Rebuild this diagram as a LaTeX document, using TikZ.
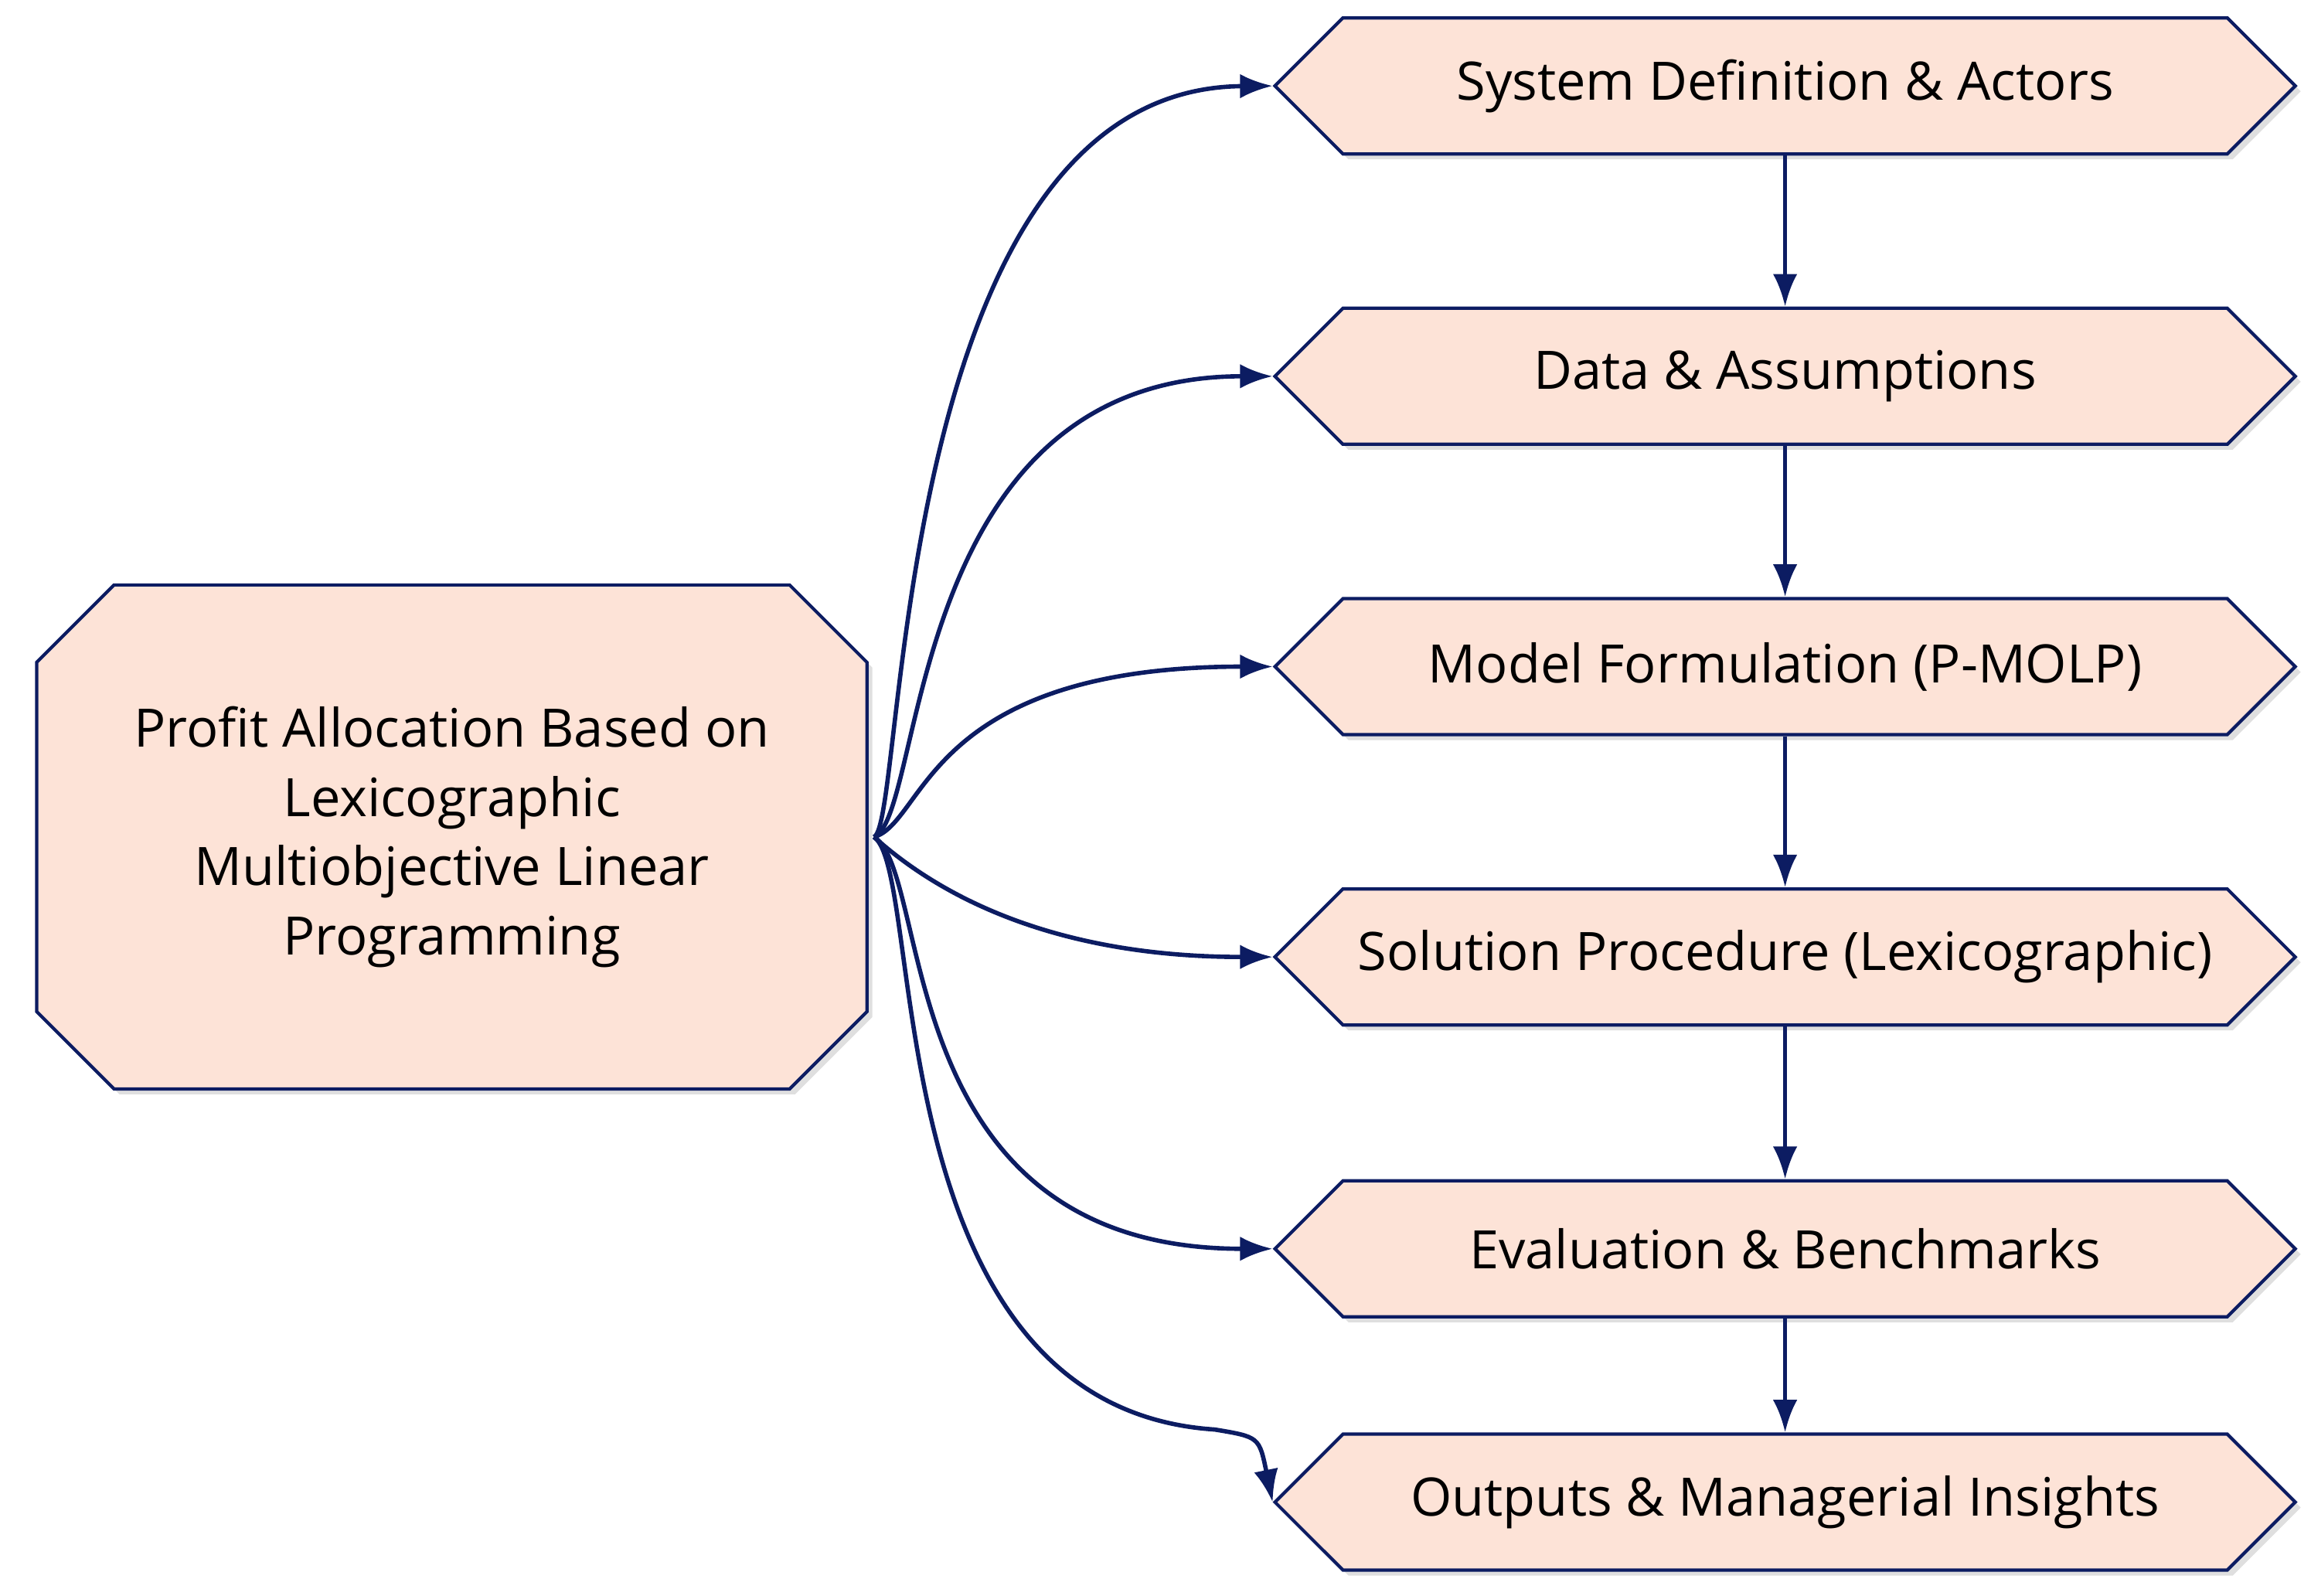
\documentclass[tikz,border=0pt]{standalone}
\usepackage{fontspec}
\setmainfont{Open Sans}
\usetikzlibrary{
  arrows.meta,
  shapes.misc,
  shapes.symbols,
  shadows,
}
\definecolor{peach}{RGB}{253, 227, 215}
\definecolor{navy}{RGB}{12, 28, 98}
\tikzset{
  stage/.style = {
    signal, signal to=west and east, signal pointer angle=90,
    draw=navy, line width=1.2pt, fill=peach,
    minimum width=13.2cm, minimum height=1.76cm, inner sep=0pt,
    font=\fontsize{19.5}{23}\selectfont,
    drop shadow={opacity=0.25, shadow xshift=2pt, shadow yshift=-2pt},
  },
  topic/.style = {
    chamfered rectangle, chamfered rectangle xsep=0.55cm,
    chamfered rectangle ysep=0.45cm,
    draw=navy, line width=1.2pt, fill=peach,
    minimum width=10.74cm, minimum height=6.52cm, inner sep=0pt,
    align=center, font=\fontsize{19.5}{25.5}\selectfont,
    drop shadow={opacity=0.25, shadow xshift=2pt, shadow yshift=-2pt},
  },
  arrow/.style = {
    -{Latex[length=12pt, width=9pt]},
    line width=1.6pt,
    navy,
  },
}

\begin{document}
\begin{tikzpicture}[x=0.01917cm, y=-0.01917cm]

  \useasboundingbox (0,0) rectangle (1560,1077);

  \node [topic] (main) at (305,565)
        {Profit Allocation Based on\\Lexicographic\\Multiobjective Linear\\Programming};

  \node [stage] (sys)  at (1205,58)   {System Definition \& Actors};
  \node [stage] (data) at (1205,254)  {Data \& Assumptions};
  \node [stage] (model) at (1205,450) {Model Formulation (P-MOLP)};
  \node [stage] (sol)  at (1205,646)  {Solution Procedure (Lexicographic)};
  \node [stage] (eval) at (1205,843)  {Evaluation \& Benchmarks};
  \node [stage] (out)  at (1205,1014) {Outputs \& Managerial Insights};

  \coordinate (fan) at (590,565);

  \draw [arrow] (fan) .. controls (612,555) and (600,60) .. (sys.west);
  \draw [arrow] (fan) .. controls (625,550) and (610,254) .. (data.west);
  \draw [arrow] (fan) .. controls (625,555) and (625,450) .. (model.west);
  \draw [arrow] (fan) .. controls (640,610) and (720,646) .. (sol.west);
  \draw [arrow] (fan) .. controls (630,590) and (600,843) .. (eval.west);
  \draw [arrow] (fan) .. controls (625,590) and (590,950) .. (820,965)
                      .. controls (850,970) .. (out.west);

  \foreach \a/\b in {sys/data, data/model, model/sol, sol/eval, eval/out} {
    \draw [arrow] (\a.south) -- (\b.north);
  }
\end{tikzpicture}
\end{document}
